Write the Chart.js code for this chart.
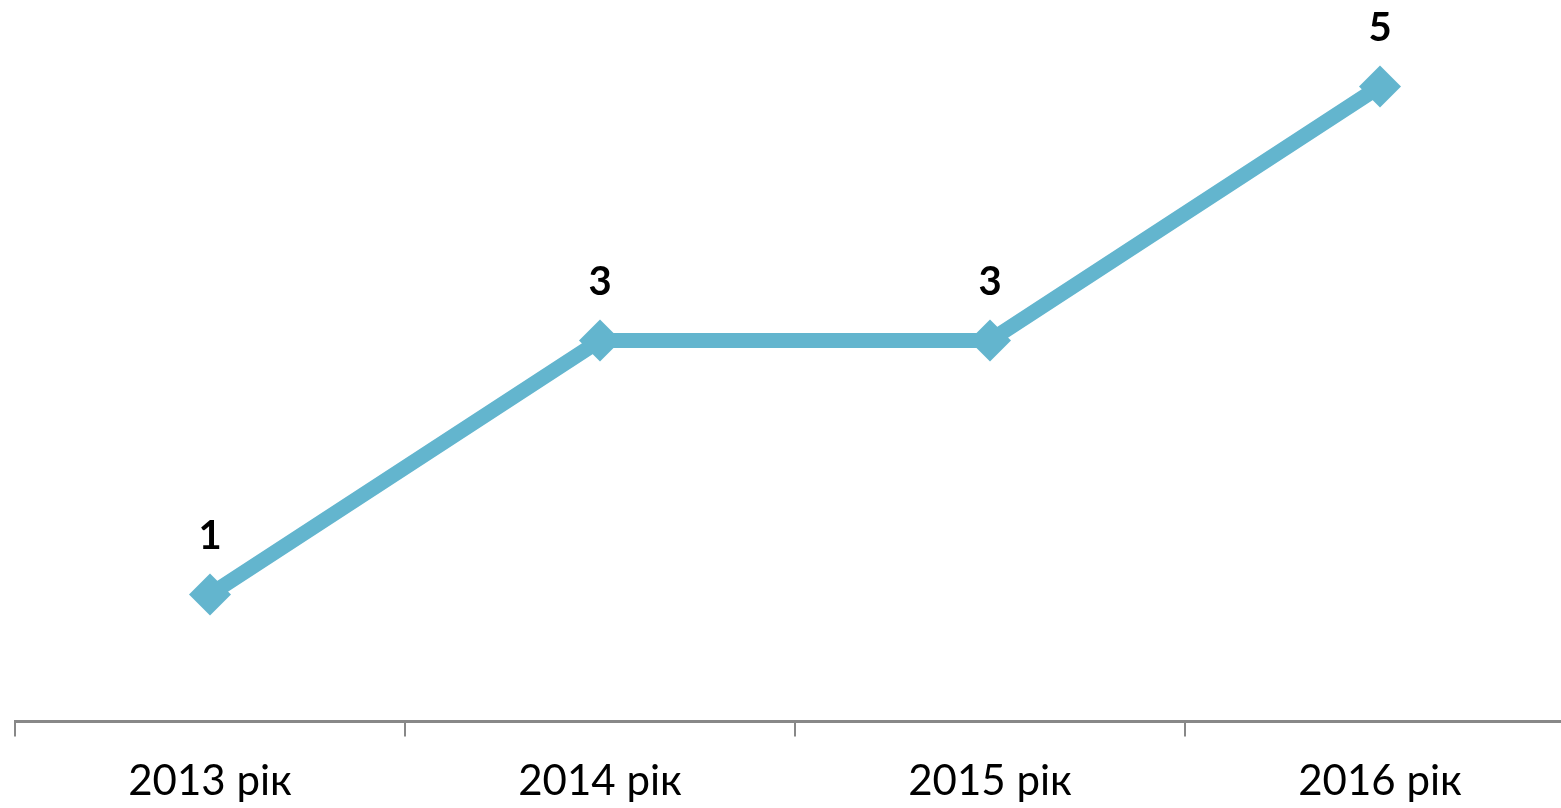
<!DOCTYPE html>
<html lang="uk">
<head>
    <meta charset="UTF-8">
    <title>Графік</title>
    <script src="https://cdn.jsdelivr.net/npm/chart.js"></script>
    <style>
        html, body { margin: 0; padding: 0; overflow: hidden; background: #fff; }
        #wrap { width: 1575px; height: 827px; }
    </style>
</head>
<body>
    <div id="wrap"><canvas id="chart"></canvas></div>

    <script>
        const years = ['2013 рік', '2014 рік', '2015 рік', '2016 рік'];
        const values = [1, 3, 3, 5];

        // підписи значень над точками
        const valueLabels = {
            id: 'valueLabels',
            afterDatasetsDraw(chart) {
                const ctx = chart.ctx;
                const meta = chart.getDatasetMeta(0);
                ctx.save();
                ctx.font = 'bold 40px Lato';
                ctx.fillStyle = '#000';
                ctx.textAlign = 'center';
                ctx.textBaseline = 'middle';
                meta.data.forEach((pt, i) => {
                    ctx.fillText(String(values[i]), pt.x, pt.y - 58);
                });
                ctx.restore();
            }
        };

        new Chart(document.getElementById('chart'), {
            type: 'line',
            data: {
                labels: years,
                datasets: [{
                    data: values,
                    borderColor: '#63B5CE',
                    backgroundColor: '#63B5CE',
                    borderWidth: 15,
                    pointStyle: 'rectRot',
                    pointRadius: 21,
                    pointHoverRadius: 21,
                    pointBorderWidth: 0,
                    tension: 0,
                    clip: false
                }]
            },
            options: {
                responsive: true,
                maintainAspectRatio: false,
                animation: false,
                layout: { autoPadding: false, padding: { left: 15, right: 0, top: 0, bottom: 0 } },
                plugins: { legend: { display: false }, tooltip: { enabled: false } },
                scales: {
                    x: {
                        offset: true,
                        grid: {
                            offset: true,
                            drawOnChartArea: false,
                            drawTicks: true,
                            tickLength: 15,
                            color: '#888888',
                            lineWidth: 2
                        },
                        border: { display: true, color: '#888888', width: 3 },
                        ticks: {
                            color: '#000',
                            padding: 20,
                            font: { family: 'Lato', size: 42 },
                            maxRotation: 0
                        }
                    },
                    y: {
                        display: false,
                        min: 0,
                        max: 5.68
                    }
                }
            },
            plugins: [valueLabels]
        });
    </script>
</body>
</html>
